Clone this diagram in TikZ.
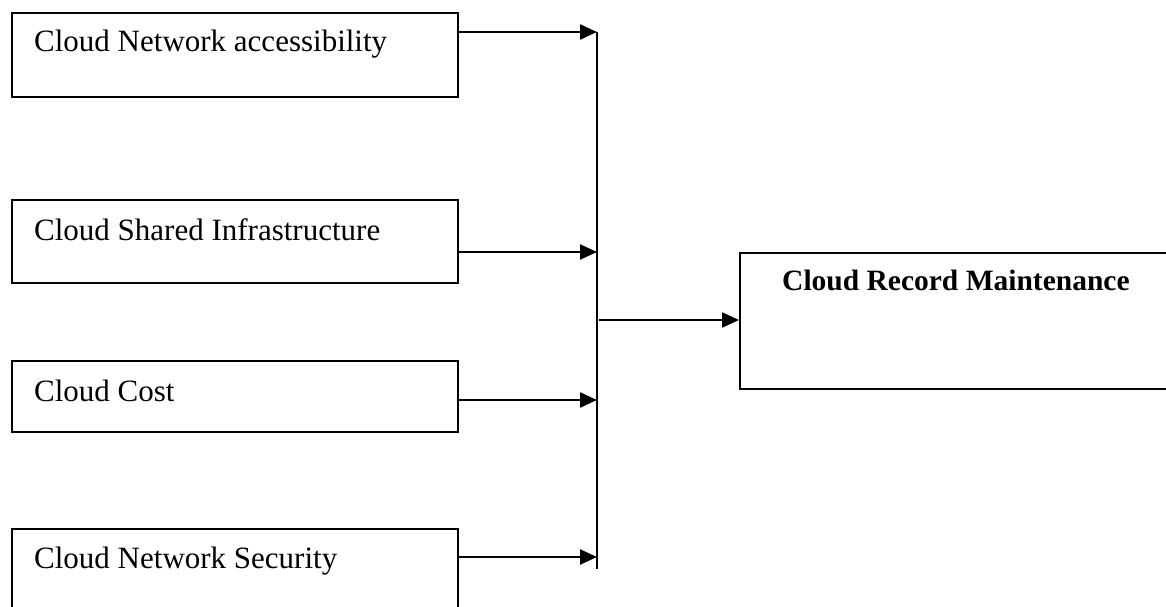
\documentclass[tikz,border=0pt]{standalone}
\usepackage{fontspec}
\setmainfont{Liberation Serif}
\usetikzlibrary{arrows.meta,calc}
\begin{document}
\begin{tikzpicture}[x=1pt,y=-1pt,
  box/.style={draw, line width=2.4pt, rectangle, anchor=north west, inner sep=0pt},
  lbl/.style={anchor=base west, inner sep=0pt, font=\fontsize{31}{37}\selectfont},
  blbl/.style={anchor=base west, inner sep=0pt, font=\fontsize{29.5}{35}\selectfont\bfseries},
  conn/.style={line width=2.4pt, -{Triangle[length=17pt,width=15pt]}},
  bus/.style={line width=2.4pt}]
\clip (0,0) rectangle (1166,607);
% input boxes
\node[box, minimum width=446pt, minimum height=84pt] (b1) at (11,12) {};
\node[box, minimum width=446pt, minimum height=83pt] (b2) at (11,199) {};
\node[box, minimum width=446pt, minimum height=71pt] (b3) at (11,360) {};
\node[box, minimum width=446pt, minimum height=100pt] (b4) at (11,528) {};
\node[lbl] (t1) at (34,52) {Cloud Network accessibility};
\node[lbl] (t2) at (34,240) {Cloud Shared Infrastructure};
\node[lbl] (t3) at (34,401) {Cloud Cost};
\node[lbl] (t4) at (34,568) {Cloud Network Security};
% output box
\node[box, minimum width=470pt, minimum height=136pt] (out) at (739,252) {};
\node[blbl] (to) at (782,290) {Cloud Record Maintenance};
% bus
\coordinate (j1) at (597,32);
\coordinate (j2) at (597,252);
\coordinate (j3) at (597,400);
\coordinate (j4) at (597,557);
\coordinate (jb) at (597,569);
\coordinate (jo) at (599,320);
\draw[bus] (j1) -- (jb);
\draw[conn] (b1.north east |- j1) -- (j1);
\draw[conn] (b2.north east |- j2) -- (j2);
\draw[conn] (b3.north east |- j3) -- (j3);
\draw[conn] (b4.north east |- j4) -- (j4);
\draw[conn] (jo) -- (out.west |- jo);
\end{tikzpicture}
\end{document}
